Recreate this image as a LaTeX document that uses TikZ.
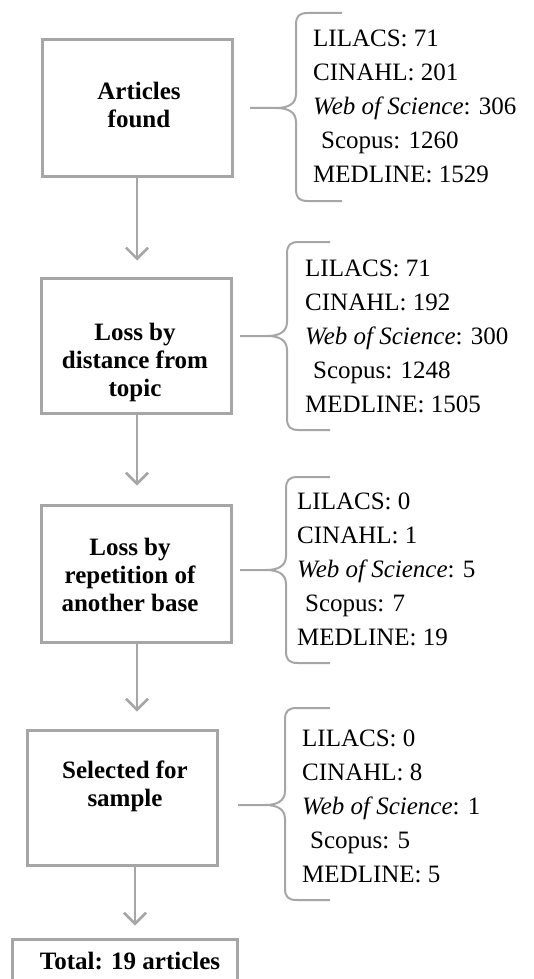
\documentclass[tikz,border=0pt]{standalone}
\usepackage{fontspec}
\setmainfont{Liberation Serif}
\usetikzlibrary{arrows.meta, positioning}
\definecolor{linegray}{HTML}{A6A6A6}
\newcommand\px{137}
% curly bracket: x of spine, top y, tip y, bottom y, tip x, end x
\newcommand\srcbrace[6]{%
  \draw[srcline] (#6,#2) -- ({#1+12},#2) .. controls ({#1+3},#2) and (#1,{#2+3}) .. (#1,{#2+12})
    -- (#1,{#3-14}) .. controls (#1,{#3-4}) and ({#1-8},#3) .. ({#1-20},#3) -- (#5,#3);
  \draw[srcline] ({#1-20},#3) .. controls ({#1-8},#3) and (#1,{#3+4}) .. (#1,{#3+14})
    -- (#1,{#4-12}) .. controls (#1,{#4-3}) and ({#1+3},#4) .. ({#1+12},#4) -- (#6,#4);}

\begin{document}
\begin{tikzpicture}[x=1pt, y=-1pt,
    stage/.style={rectangle, draw=linegray, line width=3pt, minimum width=190pt, inner sep=0pt},
    stagetext/.style={inner sep=0pt, align=center, font={\fontsize{25}{28}\selectfont\bfseries}},
    sources/.style={anchor=west, inner sep=0pt, align=left, font={\fontsize{25}{34}\selectfont}},
    srcline/.style={draw=linegray, line width=2pt},
    flow/.style={draw=linegray, line width=2.5pt, -{Straight Barb[length=11pt, width=22pt]}}]

    \useasboundingbox (0,0) rectangle (533,979);

    % Stages
    \node at (\px, 108) [stage, minimum height=136pt] (b1) {};
    \node at (\px - 1, 345.5) [stage, minimum height=135pt] (b2) {};
    \node at (\px - 1, 573.5) [stage, minimum height=137pt] (b3) {};
    \node at (\px - 15, 797.5) [stage, minimum height=135pt] (b4) {};
    \node at (\px - 12.5, 962) [stage, minimum width=225pt, minimum height=46pt] (b5) {};

    \node at (\px + 2, 105) [stagetext] (t1) {Articles\\found};
    \node at (\px - 2, 362) [stagetext] (t2) {Loss by\\distance from\\topic};
    \node at (\px - 7, 575) [stagetext] (t3) {Loss by\\repetition of\\another base};
    \node at (\px - 12, 786) [stagetext] (t4) {Selected for\\sample};
    \node at (\px - 7, 961) [stagetext] (t5) {Total: 19 articles};

    \draw[flow, shorten >=16pt] (b1.south) -- (b1.south |- b2.north);
    \draw[flow, shorten >=18pt] (b2.south -| b1.south) -- (b1.south |- b3.north);
    \draw[flow, shorten >=17pt] (b3.south -| b1.south) -- (b1.south |- b4.north);
    \draw[flow, shorten >=12pt] ([xshift=13pt]b4.south) -- ([xshift=13pt]b4.south |- b5.north);

    % Databases
    \srcbrace{296}{13}{108}{201}{250}{342}
    \srcbrace{287}{242}{336}{430}{240}{330}
    \srcbrace{286}{477}{570}{663}{240}{330}
    \srcbrace{285}{708}{805}{900}{238}{330}

    \node at (313, 106.75) [sources] (s1) {LILACS: 71\\CINAHL: 201\\\textit{Web of Science}: 306\\\hspace*{8pt}Scopus: 1260\\MEDLINE: 1529};
    \node at (305, 336.75) [sources] (s2) {LILACS: 71\\CINAHL: 192\\\textit{Web of Science}: 300\\\hspace*{8pt}Scopus: 1248\\MEDLINE: 1505};
    \node at (297, 569.75) [sources] (s3) {LILACS: 0\\CINAHL: 1\\\textit{Web of Science}: 5\\\hspace*{8pt}Scopus: 7\\MEDLINE: 19};
    \node at (302, 806.75) [sources] (s4) {LILACS: 0\\CINAHL: 8\\\textit{Web of Science}: 1\\\hspace*{8pt}Scopus: 5\\MEDLINE: 5};
\end{tikzpicture}
\end{document}
